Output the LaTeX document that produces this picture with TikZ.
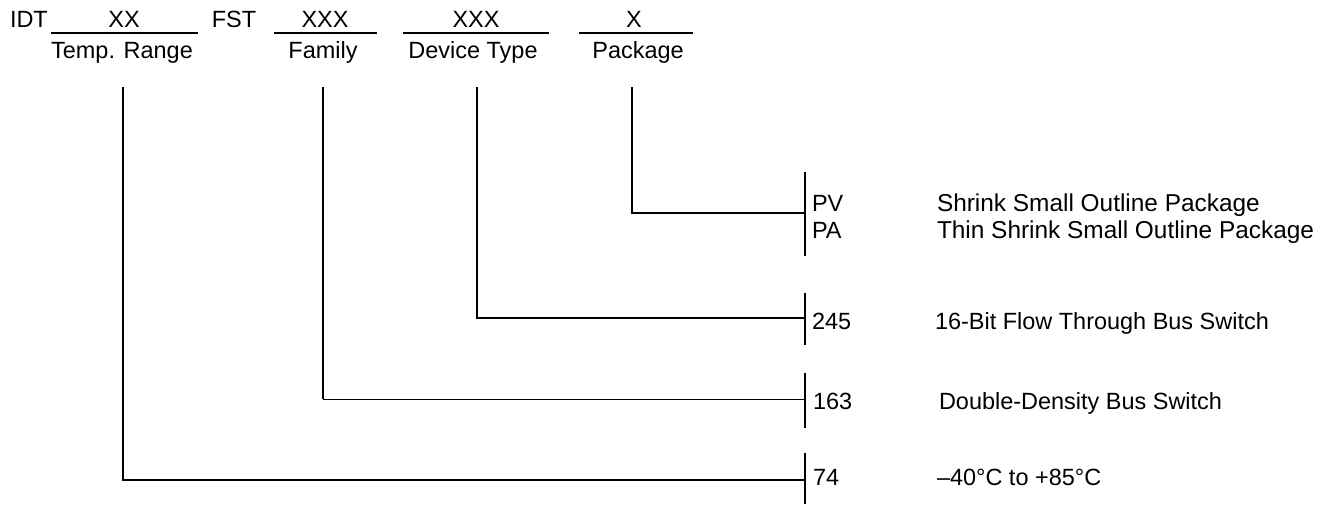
\documentclass[tikz,border=0pt]{standalone}
\usepackage{fontspec}
\setmainfont{Liberation Sans}
\begin{document}
\begin{tikzpicture}[x=0.75pt,y=-0.75pt,
  every node/.style={inner sep=0pt,outer sep=0pt,font=\fontsize{17.6pt}{21pt}\selectfont},
  lbl/.style={anchor=base},
  lft/.style={anchor=base west},
  wide/.style={anchor=base west,font=\fontsize{18.3pt}{21pt}\selectfont},
  rule/.style={line width=1.1pt},
  conn/.style={line width=1.1pt},
  thinconn/.style={line width=0.7pt},
  bar/.style={line width=1.3pt}]
\useasboundingbox (0,0) rectangle (1326,506);
% header row
\node[lft] (idt) at (10,28) {IDT};
\node[lbl] (xx) at (124,28) {XX};
\node[lbl] (fst) at (234,28) {FST};
\node[lbl] (xxx1) at (325,28) {XXX};
\node[lbl] (xxx2) at (476,28) {XXX};
\node[lbl] (x1) at (634,28) {X};
% underlines
\coordinate (u1a) at (51,33); \coordinate (u1b) at (198,33);
\coordinate (u2a) at (274,33); \coordinate (u2b) at (377,33);
\coordinate (u3a) at (403,33); \coordinate (u3b) at (549,33);
\coordinate (u4a) at (579,33); \coordinate (u4b) at (693,33);
\draw[rule] (u1a) -- (u1b);
\draw[rule] (u2a) -- (u2b);
\draw[rule] (u3a) -- (u3b);
\draw[rule] (u4a) -- (u4b);
% labels
\node[lbl] (temp) at (122,59) {Temp. Range};
\node[lbl] (fam) at (323,59) {Family};
\node[lbl] (dev) at (473,59) {Device Type};
\node[lbl] (pkg) at (638,59) {Package};
% line tops
\coordinate (ttop) at (123,87);
\coordinate (ftop) at (323,87);
\coordinate (dtop) at (477,87);
\coordinate (ptop) at (632,87);
% bars
\coordinate (b1a) at (805,172); \coordinate (b1b) at (805,256); \coordinate (b1m) at (805,213);
\coordinate (b2a) at (805,293); \coordinate (b2b) at (805,345); \coordinate (b2m) at (805,318);
\coordinate (b3a) at (805,373); \coordinate (b3b) at (805,428); \coordinate (b3m) at (805,399);
\coordinate (b4a) at (805,453); \coordinate (b4b) at (805,504); \coordinate (b4m) at (805,480);
\draw[bar] (b1a) -- (b1b);
\draw[bar] (b2a) -- (b2b);
\draw[bar] (b3a) -- (b3b);
\draw[bar] (b4a) -- (b4b);
% connectors
\draw[conn] (ptop) |- (b1m);
\draw[conn] (dtop) |- (b2m);
\draw[conn] (ftop) -- (ftop |- b3m);
\draw[thinconn] (ftop |- b3m) -- (b3m);
\draw[conn] (ttop) |- (b4m);
% codes and descriptions
\node[lft] (pv) at (812,211) {PV};
\node[lft] (pa) at (812,238) {PA};
\node[wide] (pvd) at (937,211) {Shrink Small Outline Package};
\node[wide] (pad) at (937,238) {Thin Shrink Small Outline Package};
\node[lft] (c245) at (812,329) {245};
\node[lft] (d245) at (935,329) {16-Bit Flow Through Bus Switch};
\node[lft] (c163) at (813,409) {163};
\node[lft] (d163) at (939,409) {Double-Density Bus Switch};
\node[lft] (c74) at (813,485) {74};
\node[lft] (d74) at (937,485) {–40°C to +85°C};
\end{tikzpicture}
\end{document}
